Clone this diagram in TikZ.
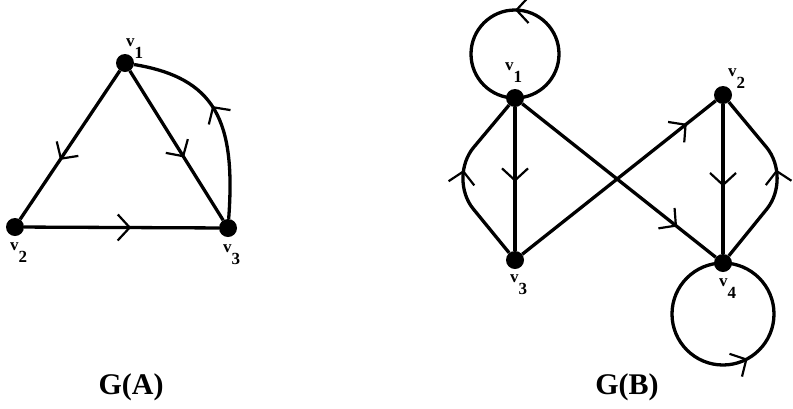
\documentclass[tikz,border=0pt]{standalone}
\usepackage{fontspec}
\setmainfont{Liberation Serif}
\usetikzlibrary{arrows.meta,decorations.markings}
\newcommand{\vsub}[1]{v\raisebox{-12pt}{#1}}
\begin{document}
\begin{tikzpicture}[x=1pt,y=-1pt,
    vtx/.style={circle,fill,inner sep=0pt,minimum size=18pt},
    edge/.style={line width=3.3pt},
    mid/.style={postaction={decorate},decoration={markings,
        mark=at position #1 with {\arrow{Straight Barb[length=12pt,width=26pt,line width=2.2pt]}}}},
    vlab/.style={anchor=base west,inner sep=0pt,font=\bfseries\fontsize{17}{17}\selectfont},
    title/.style={font=\bfseries\fontsize{30}{30}\selectfont}]
  \useasboundingbox (0,0) rectangle (793,408);
  % G(A)
  \node[vtx] (a1) at (125,63) {};
  \node[vtx] (a2) at (15,227) {};
  \node[vtx] (a3) at (228,228) {};
  \node[vlab] (la1) at (126,46) {\vsub{1}};
  \node[vlab] (la2) at (10,250) {\vsub{2}};
  \node[vlab] (la3) at (223,252) {\vsub{3}};
  \draw[edge,mid=0.6] (a1) -- (a2);
  \draw[edge,mid=0.58] (a1) -- (a3);
  \draw[edge,mid=0.55] (a2) -- (a3);
  \draw[edge,mid=0.56] (a3) .. controls (236,120) and (215,78) .. (a1);
  \node[title] (ta) at (131,387) {G(A)};
  % G(B)
  \node[vtx] (b1) at (515,98) {};
  \node[vtx] (b2) at (723,95) {};
  \node[vtx] (b3) at (515,260) {};
  \node[vtx] (b4) at (723,263) {};
  \node[vlab] (lb1) at (505,70) {\vsub{1}};
  \node[vlab] (lb2) at (728,76) {\vsub{2}};
  \node[vlab] (lb3) at (510,282) {\vsub{3}};
  \node[vlab] (lb4) at (719,286) {\vsub{4}};
  \draw[edge,mid=0.52] (b1) -- (b3);
  \draw[edge,mid=0.55] (b2) -- (b4);
  \draw[edge,mid=0.8] (b1) -- (b4);
  \draw[edge,mid=0.85] (b3) -- (b2);
  \draw[edge,rounded corners=40pt,mid=0.55] (b3) -- (448,178) -- (b1);
  \draw[edge,rounded corners=40pt,mid=0.55] (b4) -- (792,178) -- (b2);
  \draw[edge,mid=0.5] (b1.center) arc[start angle=-90,end angle=270,radius=44pt];
  \draw[edge,mid=0.58] (b4.center) arc[start angle=90,end angle=450,radius=51pt];
  \node[title] (tb) at (627,387) {G(B)};
\end{tikzpicture}
\end{document}
